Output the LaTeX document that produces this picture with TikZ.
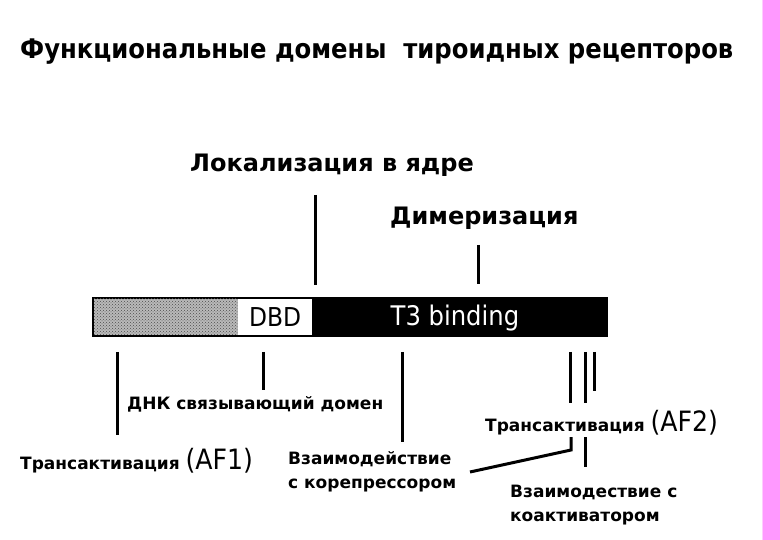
\documentclass[tikz,border=0pt]{standalone}
\usepackage{fontspec}
\setmainfont{DejaVu Sans}
\newfontfamily\condf{DejaVu Sans Condensed}
\newcommand\afsty{\condf\mdseries\fontsize{28}{28}\selectfont}
\usetikzlibrary{patterns}
\definecolor{stripe}{HTML}{FF99FF}
\begin{document}
\begin{tikzpicture}[x=1pt,y=-1pt,
  lbl/.style={inner sep=0pt,font=\bfseries\fontsize{17}{24}\selectfont,align=left},
  big/.style={inner sep=0pt,font=\bfseries\fontsize{24}{28}\selectfont},
  tick/.style={line width=3pt}]
\useasboundingbox (0,0) rectangle (780,540);
\fill[white] (0,0) rectangle (780,540);
\fill[stripe] (763,0) rectangle (780,540);
\draw[stripe!50,line width=0.8pt] (762,0) -- (762,540);
% title
\node[inner sep=0pt,anchor=west,font=\condf\bfseries\fontsize{27}{30}\selectfont] (title) at (20,52) {Функциональные домены\ \ тироидных рецепторов};
% top labels
\node[big,anchor=west] (lok) at (190,165) {Локализация в ядре};
\node[big,anchor=west] (dim) at (390,218) {Димеризация};
% bar
\fill[black] (92,297) rectangle (608,337);
\fill[gray!55] (94,299) rectangle (238,335);
\fill[pattern=crosshatch dots,pattern color=black!70] (94,299) rectangle (238,335);
\node[fill=white,minimum width=74pt,minimum height=36pt,inner sep=0pt,anchor=west,font=\condf\fontsize{26}{26}\selectfont] (dbd) at (238,317) {DBD};
\node[text=white,inner sep=0pt,font=\condf\fontsize{27}{27}\selectfont] (t3) at (455,318) {T3 binding};
% ticks above
\draw[tick] (315,195) -- (315,285);
\draw[tick] (478,245) -- (478,284);
% ticks below
\draw[tick] (117,352) -- (117,435);
\draw[tick] (263,352) -- (263,390);
\draw[tick] (402,352) -- (402,442);
\draw[tick] (570,352) -- (570,403);
\draw[tick] (585,352) -- (585,403);
\draw[tick] (594,352) -- (594,391);
\draw[tick] (571,437) -- (571,450) -- (470,472);
\draw[tick] (585,437) -- (585,467);
% labels below
\node[lbl,anchor=west] (dnk) at (127,404) {ДНК связывающий домен};
\node[lbl,anchor=west] (af2) at (485,423) {Трансактивация {\afsty (AF2)}};
\node[lbl,anchor=west] (af1) at (20,461) {Трансактивация {\afsty (AF1)}};
\node[lbl,anchor=north west] (korep) at (288,451) {Взаимодействие\\с корепрессором};
\node[lbl,anchor=north west] (koakt) at (510,485) {Взаимодествие с\\коактиватором};
\end{tikzpicture}
\end{document}
